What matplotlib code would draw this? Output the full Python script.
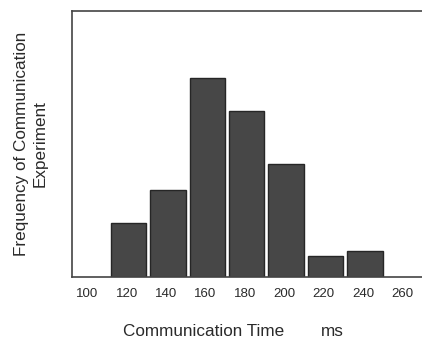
import matplotlib
matplotlib.use("Agg")
import matplotlib.pyplot as plt

times = [120, 140, 160, 180, 200, 220, 240]
frequency = [8.1, 13.1, 30, 25, 17, 3.1, 3.9]
tick_values = [100, 120, 140, 160, 180, 200, 220, 240, 260]
tick_labels = ["100", "120", "140", "160", "180", "200", "220", "240", "260"]

plt.rcParams['font.family'] = ['Liberation Sans', 'DejaVu Sans']

fig = plt.figure(figsize=(4.22, 3.38), dpi=100)
ax = fig.add_axes([71.5 / 422, 1 - 277 / 338, 1 - 71.5 / 422, (277 - 11) / 338])

ax.bar([t + 1 for t in times], frequency, width=18, color="#474747",
       edgecolor="#262626", linewidth=1.0, zorder=2)

ax.set_xlim(92, 270)
ax.set_ylim(0, 40)
ax.set_xticks(tick_values)
ax.set_xticklabels(tick_labels, fontsize=9.5, color="#2a2a2a")
ax.tick_params(axis="x", length=0, pad=8)
ax.set_yticks([])
ax.spines["right"].set_visible(False)
for s in ["left", "top", "bottom"]:
    ax.spines[s].set_color("#444444")
    ax.spines[s].set_linewidth(1.2)

fig.text(203.5 / 422, 1 - 331 / 338, "Communication Time",
         ha="center", va="center", fontsize=12.3, color="#2a2a2a")
fig.text(332.5 / 422, 1 - 331 / 338, "ms",
         ha="center", va="center", fontsize=12.3, color="#2a2a2a")
fig.text(31 / 422, 1 - 143.5 / 338, "Frequency of Communication\nExperiment",
         ha="center", va="center", rotation=90, fontsize=12.3, color="#2a2a2a",
         linespacing=1.25, multialignment="center")

fig.savefig("out.png", dpi=100, facecolor="white")
